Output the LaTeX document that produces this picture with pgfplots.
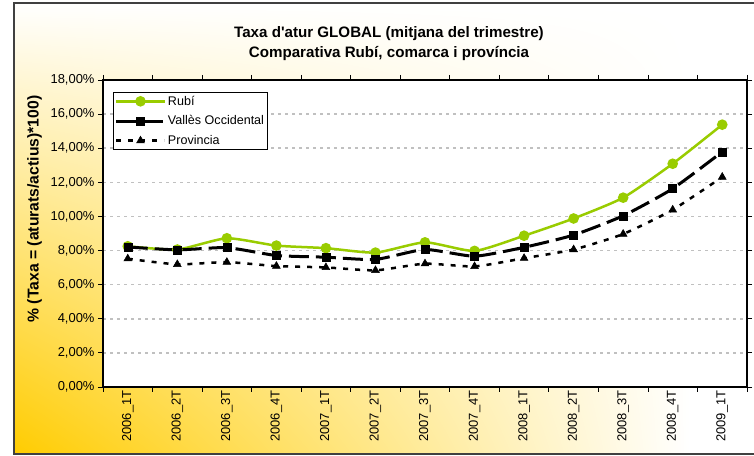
\documentclass[border=0pt]{standalone}
\usepackage{fontspec}
\setmainfont{Liberation Sans}
\usepackage{pgfplots}
\pgfplotsset{compat=1.18}
\usetikzlibrary{shadings}
\definecolor{rubi}{RGB}{153,204,0}
\definecolor{gold}{RGB}{255,204,0}
\definecolor{gridgray}{RGB}{192,192,192}
\definecolor{framegray}{RGB}{64,64,64}
\begin{document}
\begin{tikzpicture}[x=1bp,y=1bp]
\fill[white] (0,0) rectangle (760,456);
\shade[upper left=white, upper right=white, lower left=gold, lower right=white] (14,2) rectangle (690,453);
\draw[framegray, line width=1.5bp] (770,453) -- (14,453) -- (14,2) -- (770,2);
\node[font=\bfseries\fontsize{15.2}{19.5}\selectfont, align=center] at (389,412.5) {Taxa d\textquotesingle atur GLOBAL (mitjana del trimestre)\\Comparativa Rubí, comarca i província};
\node[font=\bfseries\fontsize{15.8}{17}\selectfont, rotate=90] at (34.5,247) {\% (Taxa = (aturats/actius)*100)};
\begin{axis}[
  at={(103bp,69bp)}, anchor=south west, scale only axis,
  width=644bp, height=307bp,
  xmin=-0.5, xmax=12.5, ymin=0, ymax=18,
  axis background/.style={fill=white},
  axis line style={black, line width=2bp},
  tick align=outside,
  major tick length=5bp,
  tick style={black, line width=0.8bp},
  ytick={0,2,...,18},
  yticklabels={{0,00\%},{2,00\%},{4,00\%},{6,00\%},{8,00\%},{10,00\%},{12,00\%},{14,00\%},{16,00\%},{18,00\%}},
  xtick={-0.5,0.5,...,12.5},
  xticklabels={},
  extra x ticks={0,1,2,3,4,5,6,7,8,9,10,11,12},
  extra x tick labels={2006\_1T,2006\_2T,2006\_3T,2006\_4T,2007\_1T,2007\_2T,2007\_3T,2007\_4T,2008\_1T,2008\_2T,2008\_3T,2008\_4T,2009\_1T},
  extra x tick style={major tick length=0pt, tick label style={rotate=90, anchor=east, font=\fontsize{13}{15}\selectfont}},
  y tick label style={font=\fontsize{13}{15}\selectfont},
  ymajorgrids,
  grid style={gridgray, line width=1.5bp, dash pattern=on 3bp off 4bp},
  legend style={at={(0.0155,0.961)}, anchor=north west, draw=black, line width=1bp, fill=white,
    font=\fontsize{12.6}{14}\selectfont, inner sep=1.5bp, row sep=5bp,
    cells={anchor=west}},
  legend image code/.code={\draw[#1, mark repeat=2, mark phase=2] plot coordinates {(0bp,0bp) (24bp,0bp) (48bp,0bp)};},
]
\addplot[rubi, line width=2.5bp, smooth, tension=0.35, mark=*, mark size=4bp, mark options={solid, fill=rubi, draw=rubi}] coordinates {
(0,8.25) (1,8.06) (2,8.72) (3,8.29) (4,8.14) (5,7.88) (6,8.48) (7,7.98) (8,8.87) (9,9.88) (10,11.10) (11,13.09) (12,15.38)};
\addlegendentry{Rubí}
\addplot[black, line width=3bp, dash pattern=on 20bp off 7bp, smooth, tension=0.35, mark=square*, mark size=4bp, mark options={solid, line width=0.5bp}] coordinates {
(0,8.21) (1,8.04) (2,8.17) (3,7.71) (4,7.61) (5,7.48) (6,8.06) (7,7.67) (8,8.19) (9,8.91) (10,10.04) (11,11.63) (12,13.79)};
\addlegendentry{Vallès Occidental}
\addplot[black, line width=2.5bp, dash pattern=on 5bp off 7bp, smooth, tension=0.35, mark=triangle*, mark size=4.5bp, mark options={solid, line width=0.5bp}] coordinates {
(0,7.52) (1,7.19) (2,7.32) (3,7.09) (4,7.01) (5,6.84) (6,7.23) (7,7.07) (8,7.55) (9,8.06) (10,8.97) (11,10.39) (12,12.31)};
\addlegendentry{Provincia}
\end{axis}
\pgfresetboundingbox
\path (0,0) rectangle (754,456);
\end{tikzpicture}
\end{document}
